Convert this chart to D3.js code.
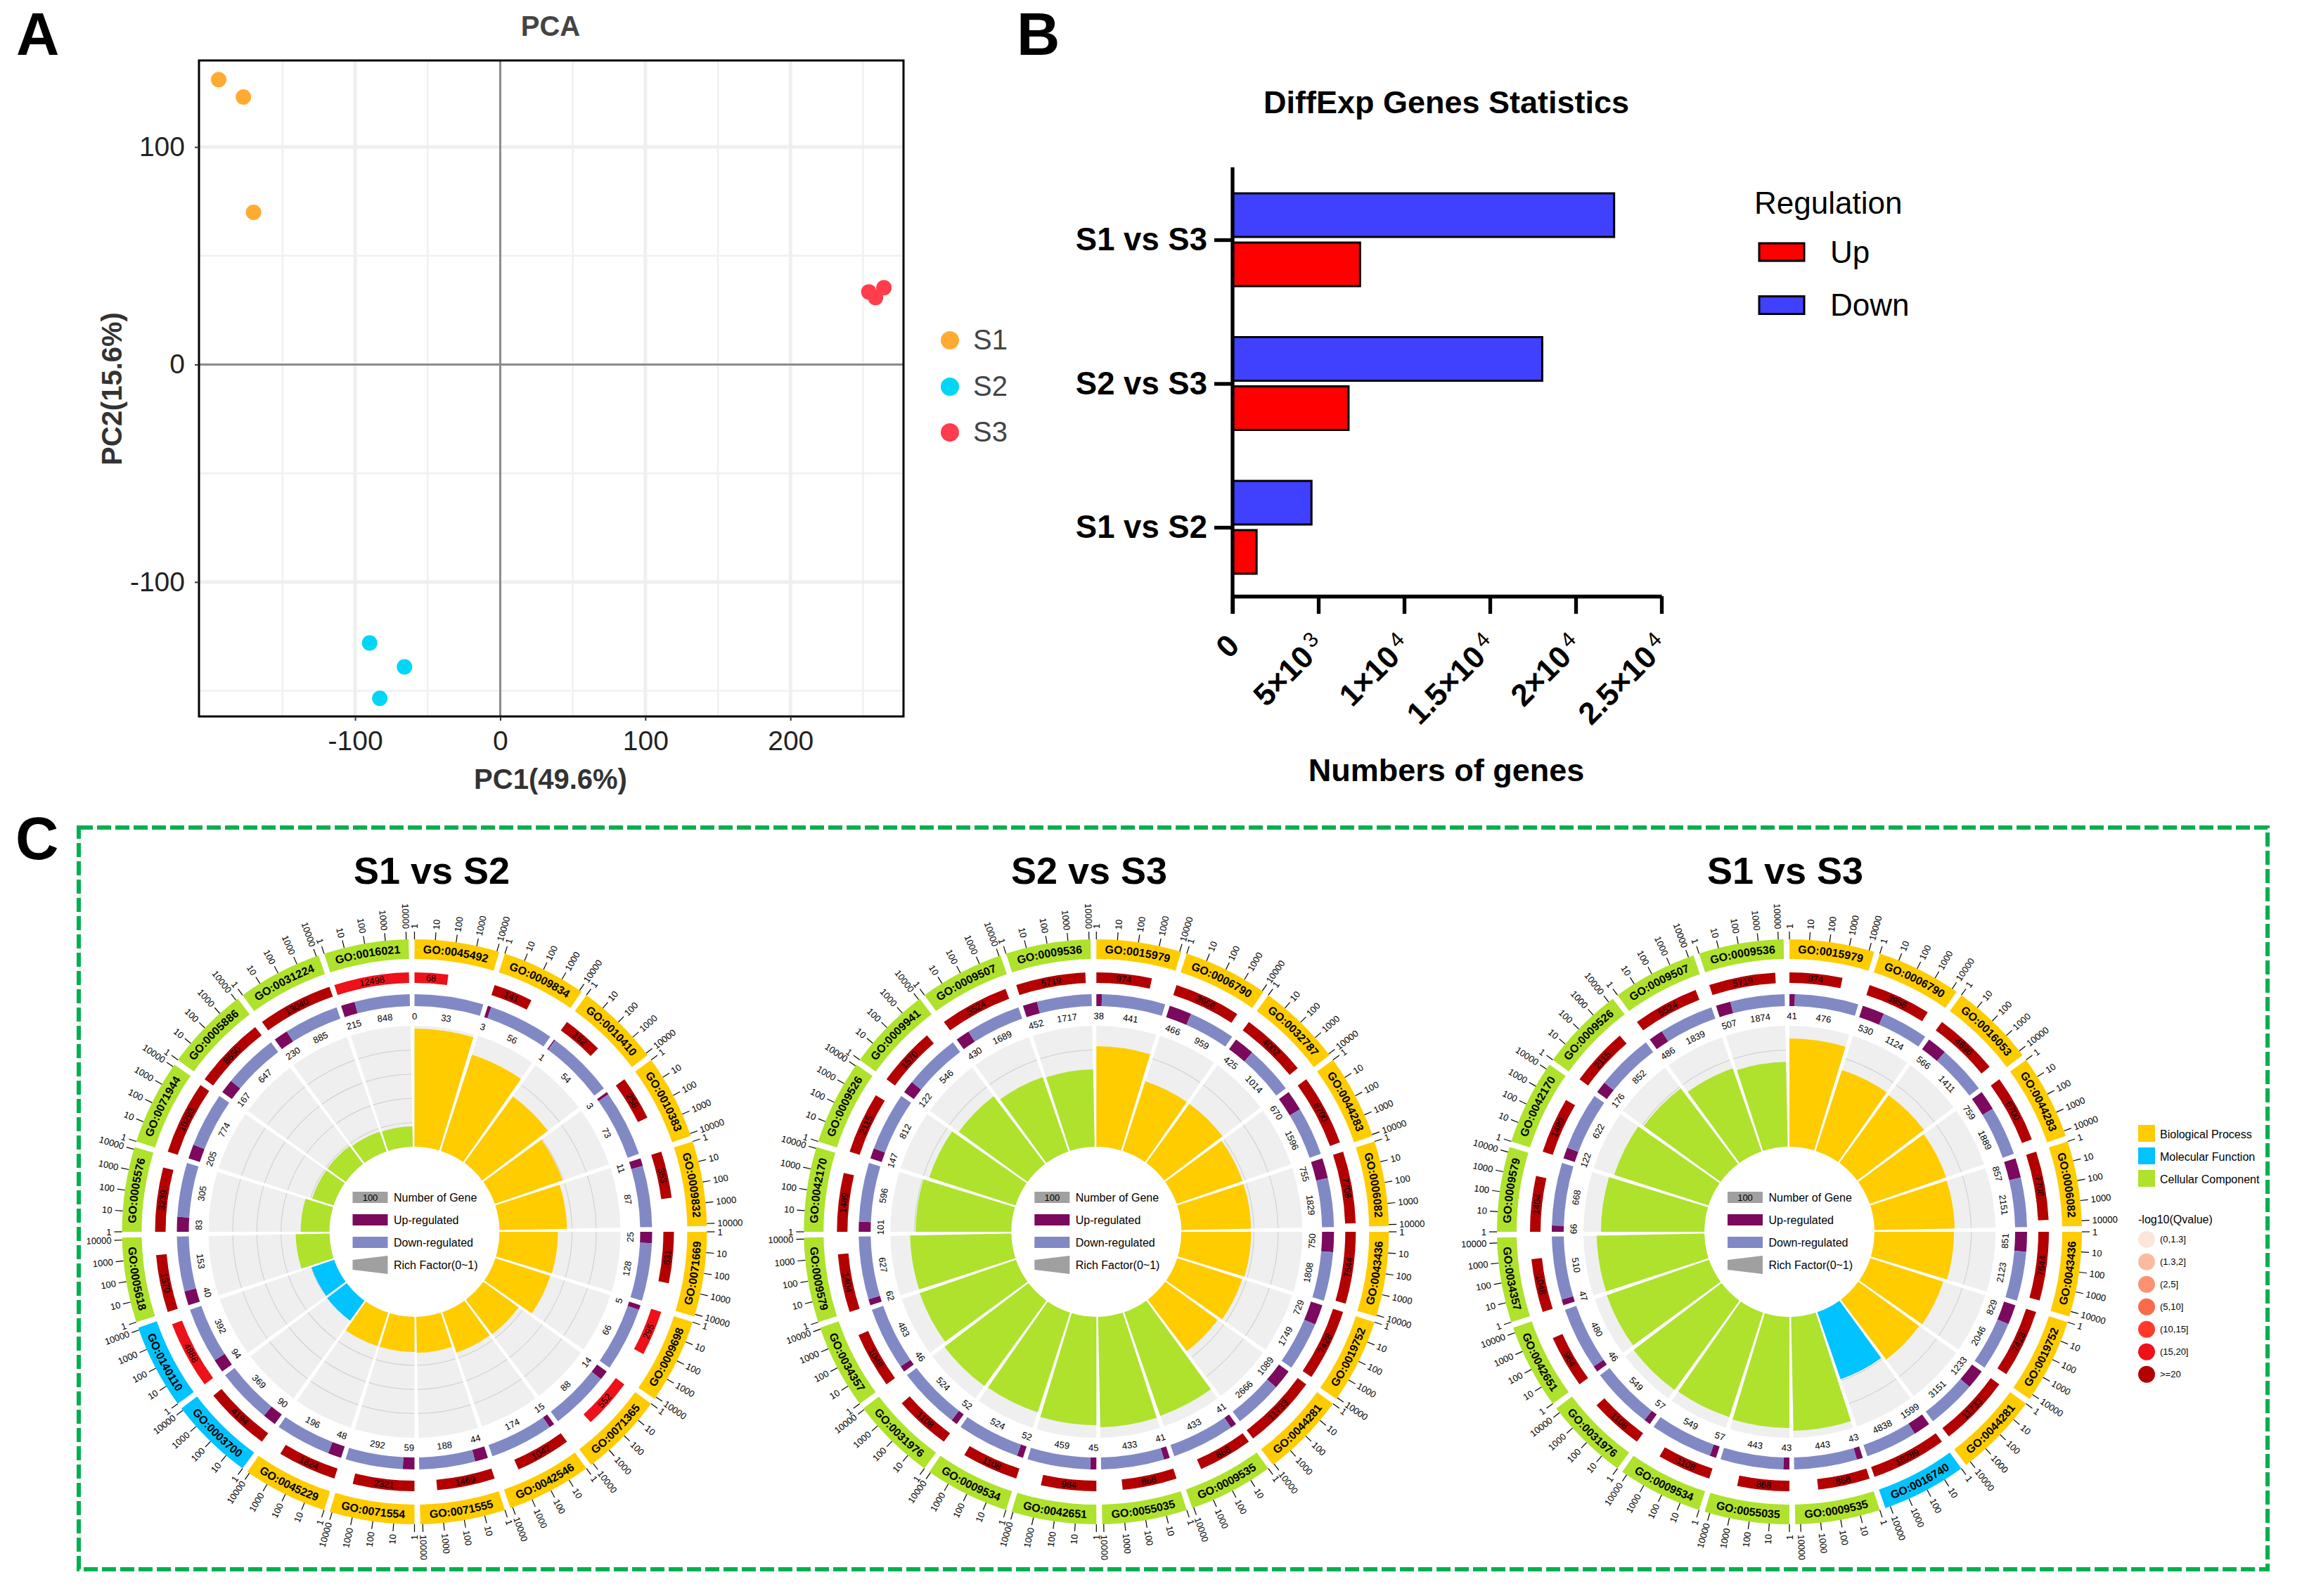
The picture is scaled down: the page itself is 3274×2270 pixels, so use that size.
<!DOCTYPE html>
<html><head><meta charset="utf-8">
<script src="https://cdn.jsdelivr.net/npm/d3@7"></script>
<style>
html,body{margin:0;padding:0;background:#fff}
svg{display:block}
text{font-family:"Liberation Sans",Arial,sans-serif}
</style></head><body>
<svg id="c" width="3274" height="2270" viewBox="0 0 3274 2270"></svg>
<script>
// ---------- Panel A data ----------
const pcaGroups = ["S1","S2","S3"];
const pc1S1 = [-194,-177,-170], pc2S1 = [131,123,70];
const pc1S2 = [-90,-66,-83],    pc2S2 = [-128,-139,-153.5];
const pc1S3 = [254,258.6,264.4],pc2S3 = [33.4,30.8,35.3];
const pcaMajorX = [-100,0,100,200], pcaMinorX = [-150,-50,50,150,250];
const pcaMajorY = [-100,0,100],     pcaMinorY = [-150,-50,50];
// ---------- Panel B data ----------
const degComparisons = ["S1 vs S3","S2 vs S3","S1 vs S2"];
const degUp   = [7430,6760,1400];
const degDown = [22240,18050,4600];
const degTicks = [0,5000,10000,15000,20000,25000];
const degTickMant = ["0","5×10","1×10","1.5×10","2×10","2.5×10"];
const degTickExp  = ["","3","4","4","4","4"];
// ---------- Panel C data ----------
const goS1S2 = ["GO:0045492","GO:0009834","GO:0010410","GO:0010383","GO:0009832","GO:0071669","GO:0009698","GO:0071365","GO:0042546","GO:0071555","GO:0071554","GO:0045229","GO:0003700","GO:0140110","GO:0005618","GO:0005576","GO:0071944","GO:0005886","GO:0031224","GO:0016021"];
const catS1S2 = ["BP","BP","BP","BP","BP","BP","BP","BP","BP","BP","BP","BP","MF","MF","CC","CC","CC","CC","CC","CC"];
const totS1S2 = [68,141,162,258,353,631,295,552,1047,1469,2321,1624,4194,4888,1370,3239,10293,8650,13040,12498];
const lvlS1S2 = [5,6,6,6,6,6,5,5,6,6,6,6,6,5,6,6,6,6,6,5];
const upS1S2  = [0,3,1,3,11,25,5,14,15,44,59,48,90,94,40,83,205,167,230,215];
const dnS1S2  = [33,56,54,73,87,128,66,88,174,188,292,196,369,392,153,305,774,647,885,848];
const rfS1S2  = [.977,.837,.68,.593,.558,.483,.477,.36,.355,.297,.29,.29,.203,.198,.279,.238,.186,.186,.174,.169];

const goS2S3 = ["GO:0015979","GO:0006790","GO:0032787","GO:0044283","GO:0006082","GO:0043436","GO:0019752","GO:0044281","GO:0009535","GO:0055035","GO:0042651","GO:0009534","GO:0031976","GO:0034357","GO:0009579","GO:0042170","GO:0009526","GO:0009941","GO:0009507","GO:0009536"];
const catS2S3 = ["BP","BP","BP","BP","BP","BP","BP","BP","CC","CC","CC","CC","CC","CC","CC","CC","CC","CC","CC","CC"];
const totS2S3 = [974,3956,4002,6700,7708,7644,7428,11733,868,868,964,1108,1108,1048,1404,1489,2115,1570,5524,5719];
const upS2S3  = [38,466,425,670,755,750,729,1089,41,41,45,52,52,46,62,101,147,122,430,452];
const dnS2S3  = [441,959,1014,1596,1829,1808,1749,2666,433,433,459,524,524,483,627,596,812,546,1689,1717];
const rfS2S3  = [.831,.605,.605,.576,.576,.576,.564,.535,.907,.913,.895,.866,.872,.843,.837,.791,.75,.703,.651,.64];

const goS1S3 = ["GO:0015979","GO:0006790","GO:0016053","GO:0044283","GO:0006082","GO:0043436","GO:0019752","GO:0044281","GO:0016740","GO:0009535","GO:0055035","GO:0009534","GO:0031976","GO:0042651","GO:0034357","GO:0009579","GO:0042170","GO:0009526","GO:0009507","GO:0009536"];
const catS1S3 = ["BP","BP","BP","BP","BP","BP","BP","BP","MF","CC","CC","CC","CC","CC","CC","CC","CC","CC","CC","CC"];
const totS1S3 = [974,3956,4696,6700,7708,7644,7428,11733,18289,868,868,1108,1108,964,1048,1404,1489,2115,5524,5719];
const upS1S3  = [41,530,566,759,857,851,829,1233,1599,43,43,57,57,46,47,66,122,176,486,507];
const dnS1S3  = [476,1124,1411,1889,2151,2123,2046,3151,4838,443,443,549,549,480,510,668,622,852,1839,1874];
const rfS1S3  = [.895,.703,.692,.669,.663,.657,.634,.622,.587,.942,.919,.907,.913,.895,.89,.855,.82,.785,.727,.703];

const logTicks = [1,10,100,1000,10000];
const catNames = ["Biological Process","Molecular Function","Cellular Component"];
const qLabels = ["(0,1.3]","(1.3,2]","(2,5]","(5,10]","(10,15]","(15,20]",">=20"];
const centerLegend = ["Number of Gene","Up-regulated","Down-regulated","Rich Factor(0~1)"];

// ---------- styles ----------
const catColor = {BP:"#ffcc00",MF:"#00c3ff",CC:"#afe22d"};
const qColors = ["#fee5d9","#fcbba1","#fc9272","#fb6a4a","#ff3a2a","#ee1119","#b30000"];
const svg = d3.select("#c");

svg.append("rect").attr("x",112).attr("y",1177).attr("width",3113).attr("height",1055)
  .attr("fill","none").attr("stroke","#00b050").attr("stroke-width",6).attr("stroke-dasharray","20 6");

function bigLetter(t,x,y){svg.append("text").attr("x",x).attr("y",y).attr("font-size",85).attr("font-weight","bold").attr("fill","#000").text(t);}
bigLetter("A",23,78);bigLetter("B",1446,78);bigLetter("C",22,1222);

// ---------- Panel A ----------
(function(){
  const L=283,R=1285,T=86,B=1019;
  const x=d3.scaleLinear().domain([-207.6,277.9]).range([L,R]);
  const y=d3.scaleLinear().domain([-161.8,139.8]).range([B,T]);
  const g=svg.append("g");
  const vline=(v,w,c)=>g.append("line").attr("x1",x(v)).attr("x2",x(v)).attr("y1",T).attr("y2",B).attr("stroke",c).attr("stroke-width",w);
  const hline=(v,w,c)=>g.append("line").attr("y1",y(v)).attr("y2",y(v)).attr("x1",L).attr("x2",R).attr("stroke",c).attr("stroke-width",w);
  pcaMinorX.forEach(v=>vline(v,2.5,"#f0f0f0"));
  pcaMinorY.forEach(v=>hline(v,2.5,"#f0f0f0"));
  pcaMajorX.filter(v=>v!==0).forEach(v=>vline(v,5,"#efefef"));
  pcaMajorY.filter(v=>v!==0).forEach(v=>hline(v,5,"#efefef"));
  vline(0,3,"#8a8a8a");hline(0,3,"#8a8a8a");
  const series=[[pc1S1,pc2S1,"#ffab33"],[pc1S2,pc2S2,"#00d6f5"],[pc1S3,pc2S3,"#ff3d4d"]];
  series.forEach(([xs,ys,c])=>{
    g.selectAll(null).data(xs).join("circle").attr("cx",d=>x(d)).attr("cy",(d,i)=>y(ys[i])).attr("r",11).attr("fill",c);
  });
  g.append("rect").attr("x",L).attr("y",T).attr("width",R-L).attr("height",B-T).attr("fill","none").attr("stroke","#000").attr("stroke-width",3);
  const ax=g.append("g").attr("transform",`translate(0,${B})`).call(d3.axisBottom(x).tickValues(pcaMajorX).tickFormat(String).tickSize(6).tickPadding(14));
  const ay=g.append("g").attr("transform",`translate(${L},0)`).call(d3.axisLeft(y).tickValues(pcaMajorY).tickFormat(String).tickSize(6).tickPadding(14));
  [ax,ay].forEach(a=>{a.select(".domain").remove();a.selectAll("text").attr("font-size",39).attr("fill","#222").style("font-family",'"Liberation Sans"');a.selectAll("line").attr("stroke","#333").attr("stroke-width",2);});
  g.append("text").attr("x",783).attr("y",51).attr("text-anchor","middle").attr("font-size",40).attr("font-weight","bold").attr("fill","#444").text("PCA");
  g.append("text").attr("x",783).attr("y",1122).attr("text-anchor","middle").attr("font-size",40).attr("font-weight","bold").attr("fill","#333").text("PC1(49.6%)");
  g.append("text").attr("transform","translate(173,553) rotate(-90)").attr("text-anchor","middle").attr("font-size",40).attr("font-weight","bold").attr("fill","#333").text("PC2(15.6%)");
  pcaGroups.forEach((n,i)=>{
    const cy=[484,550,615][i];
    g.append("circle").attr("cx",1351).attr("cy",cy).attr("r",13).attr("fill",series[i][2]);
    g.append("text").attr("x",1384).attr("y",cy+13).attr("font-size",40).attr("fill","#444").text(n);
  });
})();

// ---------- Panel B ----------
(function(){
  const g=svg.append("g");
  const x=d3.scaleLinear().domain([0,25000]).range([1753,2363]);
  const y=d3.scalePoint().domain(degComparisons).range([341,750]);
  const h=62,off=4;
  g.selectAll(null).data(degComparisons).join("rect").attr("x",x(0)).attr("y",d=>y(d)-off-h)
    .attr("width",(d,i)=>x(degDown[i])-x(0)).attr("height",h).attr("fill","#4040ff").attr("stroke","#000").attr("stroke-width",3);
  g.selectAll(null).data(degComparisons).join("rect").attr("x",x(0)).attr("y",d=>y(d)+off)
    .attr("width",(d,i)=>x(degUp[i])-x(0)).attr("height",h).attr("fill","#ff0000").attr("stroke","#000").attr("stroke-width",3);
  const ax=g.append("g").attr("transform","translate(0,848)").call(d3.axisBottom(x).tickValues(degTicks).tickFormat("").tickSize(25).tickSizeOuter(0));
  ax.select(".domain").attr("stroke","#000").attr("stroke-width",5.3);
  ax.selectAll("line").attr("stroke","#000").attr("stroke-width",5.3);
  const ay=g.append("g").attr("transform","translate(1753,0)").call(d3.axisLeft(y).tickSize(26).tickSizeOuter(0).tickFormat(""));
  ay.select(".domain").remove();
  ay.selectAll("line").attr("stroke","#000").attr("stroke-width",5.3);
  g.append("line").attr("x1",1753).attr("x2",1753).attr("y1",238).attr("y2",873).attr("stroke","#000").attr("stroke-width",5.3);
  degComparisons.forEach(d=>{
    g.append("text").attr("x",1717).attr("y",y(d)+15).attr("text-anchor","end").attr("font-size",45.5).attr("font-weight","bold").attr("fill","#000").text(d);
  });
  degTicks.forEach((d,i)=>{
    const t=g.append("text").attr("transform",`translate(${x(d)+12},921) rotate(-45)`).attr("text-anchor","end").attr("font-size",44).attr("font-weight","bold").attr("fill","#000");
    t.append("tspan").text(degTickMant[i]);
    if(degTickExp[i]){
      t.append("tspan").attr("dy",-14).attr("dx",6).attr("font-size",30).attr("font-weight","normal").text(degTickExp[i]);
    }
  });
  g.append("text").attr("x",2057).attr("y",161).attr("text-anchor","middle").attr("font-size",45).attr("font-weight","bold").attr("fill","#000").text("DiffExp Genes Statistics");
  g.append("text").attr("x",2057).attr("y",1111).attr("text-anchor","middle").attr("font-size",45).attr("font-weight","bold").attr("fill","#000").text("Numbers of genes");
  g.append("text").attr("x",2495).attr("y",304).attr("font-size",44).attr("fill","#000").text("Regulation");
  [["Up","#ff0000",346,374],["Down","#4040ff",421.5,449]].forEach(([n,c,ry,ty])=>{
    g.append("rect").attr("x",2522-20).attr("y",ry).attr("width",64).attr("height",25).attr("fill",c).attr("stroke","#000").attr("stroke-width",3);
    g.append("text").attr("x",2603).attr("y",ty).attr("font-size",44).attr("fill","#000").text(n);
  });
})();

// ---------- Panel C ----------
const DEG=Math.PI/180, STEP=18, GAP=1.15, SPAN=STEP-GAP;
let uid=0;
function tangentText(g,aDeg,r,txt,size,weight){
  const a=((aDeg%360)+360)%360;
  const rot=(a>90&&a<270)?a-180:a;
  const px=r*Math.sin(a*DEG),py=-r*Math.cos(a*DEG);
  return g.append("text").attr("transform",`translate(${px},${py}) rotate(${rot})`)
    .attr("text-anchor","middle").attr("dominant-baseline","central").attr("font-size",size)
    .attr("font-weight",weight||"normal").attr("fill","#000").text(txt);
}
function circ(cx,cy,title,titleX,go,cat,tot,lvl,up,dn,rf){
  const g=svg.append("g").attr("transform",`translate(${cx},${cy})`);
  svg.append("text").attr("x",titleX).attr("y",1257).attr("text-anchor","middle").attr("font-size",54).attr("font-weight","bold").attr("fill","#000").text(title);
  const rInner=121,rOuter=293;
  const rr=d3.scaleLinear().domain([0,1]).range([rInner,rOuter]);
  const arc=d3.arc();
  const maxT=d3.max(tot);
  const lg=d3.scaleLog().domain([1,maxT]).range([0,SPAN]);
  const ang=d=>d*DEG;
  go.forEach((id,i)=>{
    const s=i*STEP, e=s+SPAN;
    // background + grid + rich-factor sector
    g.append("path").attr("d",arc({innerRadius:rInner,outerRadius:rOuter,startAngle:ang(s),endAngle:ang(e)})).attr("fill","#efefef");
    [.2,.4,.6,.8].forEach(v=>{
      g.append("path").attr("d",d3.arc()({innerRadius:rr(v)-.5,outerRadius:rr(v)+.5,startAngle:ang(s),endAngle:ang(e)})).attr("fill","#cdcdcd");
    });
    g.append("path").attr("d",arc({innerRadius:rInner,outerRadius:rr(rf[i]),startAngle:ang(s),endAngle:ang(e)})).attr("fill",catColor[cat[i]]);
    // up/down ring
    const frac=up[i]/(up[i]+dn[i]), m=s+SPAN*frac;
    if(up[i]>0) g.append("path").attr("d",arc({innerRadius:321,outerRadius:338,startAngle:ang(s),endAngle:ang(m)})).attr("fill","#7b0a5e");
    g.append("path").attr("d",arc({innerRadius:321,outerRadius:338,startAngle:ang(m),endAngle:ang(e)})).attr("fill","#8189c5");
    tangentText(g,(s+m)/2,307,up[i],13);
    tangentText(g,(m+e)/2,307,dn[i],13);
    // total ring
    const te=s+lg(Math.min(tot[i],maxT));
    g.append("path").attr("d",arc({innerRadius:354,outerRadius:369,startAngle:ang(s),endAngle:ang(te)})).attr("fill",qColors[lvl?lvl[i]:6]);
    tangentText(g,(s+te)/2,361.5,tot[i],13);
    // outer ring
    g.append("path").attr("d",arc({innerRadius:388,outerRadius:416,startAngle:ang(s),endAngle:ang(e)})).attr("fill",catColor[cat[i]]);
    const mid=s+SPAN/2, lower=mid>90&&mid<270, pr=lower?407.5:396.5;
    const a0=(lower?e:s)*DEG,a1=(lower?s:e)*DEG;
    const pid="gp"+(uid++);
    g.append("path").attr("id",pid).attr("fill","none")
      .attr("d",`M${pr*Math.sin(a0)},${-pr*Math.cos(a0)}A${pr},${pr} 0 0 ${lower?0:1} ${pr*Math.sin(a1)},${-pr*Math.cos(a1)}`);
    g.append("text").attr("font-size",16).attr("font-weight","bold").attr("fill","#000")
      .append("textPath").attr("href","#"+pid).attr("startOffset","50%").attr("text-anchor","middle").text(id);
    // log ticks
    logTicks.forEach(t=>{
      const a=s+lg(t), sn=Math.sin(a*DEG), cs=Math.cos(a*DEG);
      g.append("line").attr("x1",416*sn).attr("y1",-416*cs).attr("x2",427*sn).attr("y2",-427*cs).attr("stroke","#000").attr("stroke-width",1.2);
      const right=a<180;
      g.append("text").attr("transform",`translate(${431*sn},${-431*cs}) rotate(${right?a-90:a+90})`)
        .attr("text-anchor",right?"start":"end").attr("dominant-baseline","central").attr("font-size",13).attr("fill","#000").text(t);
    });
  });
  // centre legend
  const lx=-88, w=50;
  g.append("rect").attr("x",lx).attr("y",-57).attr("width",w).attr("height",16).attr("fill","#a0a0a0");
  g.append("text").attr("x",lx+w/2).attr("y",-49).attr("text-anchor","middle").attr("dominant-baseline","central").attr("font-size",13).attr("fill","#000").text("100");
  g.append("rect").attr("x",lx).attr("y",-25).attr("width",w).attr("height",16).attr("fill","#7b0a5e");
  g.append("rect").attr("x",lx).attr("y",7).attr("width",w).attr("height",16).attr("fill","#8189c5");
  g.append("path").attr("d",d3.line()([[lx,40],[lx+w,34],[lx+w,60],[lx,54]])+"Z").attr("fill","#a0a0a0");
  centerLegend.forEach((t,i)=>{
    g.append("text").attr("x",-29.5).attr("y",-49+i*32).attr("dominant-baseline","central").attr("font-size",16).attr("fill","#000").text(t);
  });
}
circ(589.5,1752,"S1 vs S2",614,goS1S2,catS1S2,totS1S2,lvlS1S2,upS1S2,dnS1S2,rfS1S2);
circ(1559.3,1752,"S2 vs S3",1549,goS2S3,catS2S3,totS2S3,null,upS2S3,dnS2S3,rfS2S3);
circ(2545,1752,"S1 vs S3",2539,goS1S3,catS1S3,totS1S3,null,upS1S3,dnS1S3,rfS1S3);

// ---------- right legend ----------
(function(){
  const g=svg.append("g");
  ["BP","MF","CC"].forEach((k,i)=>{
    g.append("rect").attr("x",3041).attr("y",1600+i*32).attr("width",24).attr("height",24).attr("fill",catColor[k]);
    g.append("text").attr("x",3072).attr("y",1613+i*32).attr("dominant-baseline","central").attr("font-size",16).attr("fill","#000").text(catNames[i]);
  });
  g.append("text").attr("x",3041).attr("y",1734).attr("dominant-baseline","central").attr("font-size",16).attr("fill","#000").text("-log10(Qvalue)");
  qLabels.forEach((t,i)=>{
    g.append("circle").attr("cx",3053).attr("cy",1762.7+i*32).attr("r",12).attr("fill",qColors[i]);
    g.append("text").attr("x",3072).attr("y",1762.7+i*32).attr("dominant-baseline","central").attr("font-size",13).attr("fill","#000").text(t);
  });
})();
</script>
</body></html>
